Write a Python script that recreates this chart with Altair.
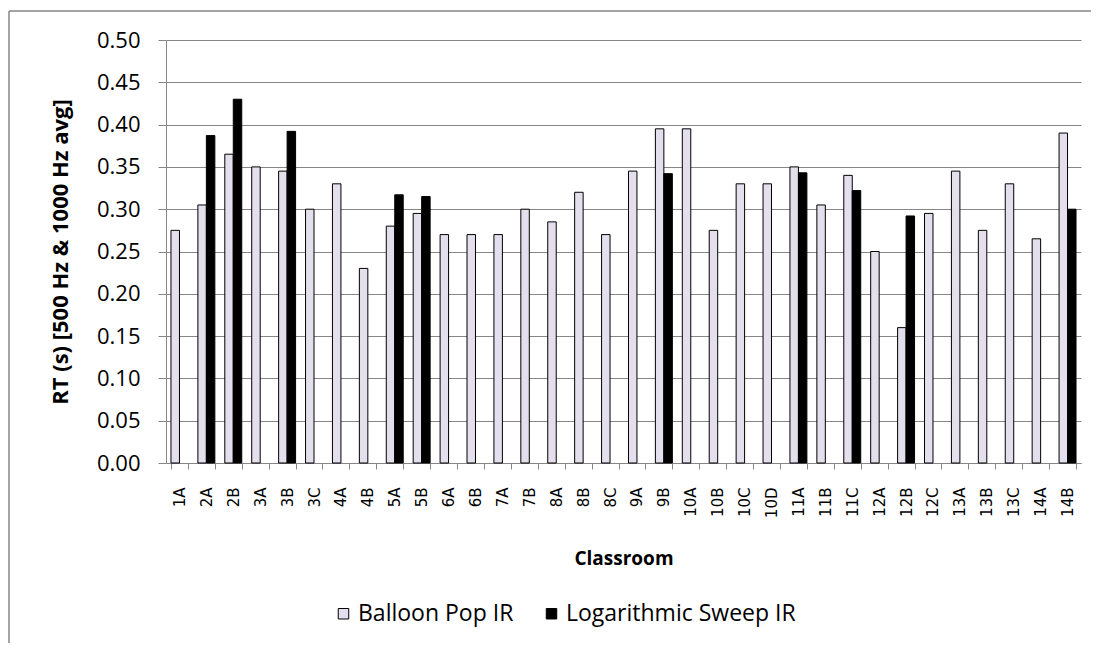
import altair as alt
import pandas as pd

rooms = ["1A", "2A", "2B", "3A", "3B", "3C", "4A", "4B", "5A", "5B", "6A", "6B",
         "7A", "7B", "8A", "8B", "8C", "9A", "9B", "10A", "10B", "10C", "10D",
         "11A", "11B", "11C", "12A", "12B", "12C", "13A", "13B", "13C", "14A", "14B"]
balloon = [0.275, 0.305, 0.365, 0.350, 0.345, 0.300, 0.330, 0.230, 0.280, 0.295, 0.270, 0.270,
           0.270, 0.300, 0.285, 0.320, 0.270, 0.345, 0.395, 0.395, 0.275, 0.330, 0.330,
           0.350, 0.305, 0.340, 0.250, 0.160, 0.295, 0.345, 0.275, 0.330, 0.265, 0.390]
sweep = [None, 0.387, 0.430, None, 0.392, None, None, None, 0.317, 0.315, None, None,
         None, None, None, None, None, None, 0.342, None, None, None, None,
         0.343, None, 0.322, None, 0.292, None, None, None, None, None, 0.300]
series = ["Balloon Pop IR", "Logarithmic Sweep IR"]
colors = ["#E4DFEC", "#000000"]
y_ticks = [0.0, 0.05, 0.10, 0.15, 0.20, 0.25, 0.30, 0.35, 0.40, 0.45, 0.50]

rows = []
for r, b, s in zip(rooms, balloon, sweep):
    rows.append({"room": r, "series": series[0], "rt": b})
    if s is not None:
        rows.append({"room": r, "series": series[1], "rt": s})
df = pd.DataFrame(rows)

FONT = "Open Sans"
XFONT = "DejaVu Sans"
GRID = "#868686"

bars = alt.Chart(df).mark_bar(stroke="black", strokeWidth=1).encode(
    x=alt.X("room:N", sort=rooms,
            scale=alt.Scale(paddingInner=0.37, paddingOuter=0.185),
            axis=alt.Axis(title="Classroom", labelAngle=270, labelFontSize=15,
                          labelPadding=18, tickBand="extent", tickSize=6,
                          tickColor=GRID, domainColor=GRID, titleFontSize=19,
                          titleFontWeight="bold", titlePadding=32, labelColor="black",
                          titleColor="black", labelFont=XFONT, titleFont=FONT)),
    xOffset=alt.XOffset("series:N", sort=series),
    y=alt.Y("rt:Q", scale=alt.Scale(domain=[0, 0.5], nice=False),
            axis=alt.Axis(title="RT (s) [500 Hz & 1000 Hz avg]", values=y_ticks,
                          format=".2f", labelFontSize=22, labelPadding=18, tickSize=8,
                          tickColor=GRID, domainColor=GRID, gridColor=GRID,
                          titleFontSize=22, titleFontWeight="bold", titlePadding=24,
                          labelColor="black", titleColor="black",
                          labelFont=FONT, titleFont=FONT)),
    color=alt.Color("series:N", sort=series,
                    scale=alt.Scale(domain=series, range=colors),
                    legend=alt.Legend(title=None, orient="none", direction="horizontal",
                                      legendX=166, legendY=562, symbolType="square",
                                      symbolSize=110, symbolStrokeColor="black",
                                      symbolStrokeWidth=1, labelFontSize=23,
                                      labelOffset=3, labelFont=FONT, columnPadding=26,
                                      labelLimit=400, labelColor="black")),
)

frame_df = pd.DataFrame({"k": [0]})
top_line = alt.Chart(frame_df).mark_rule(color=GRID, strokeWidth=1.5).encode(
    x=alt.value(-157), x2=alt.value(940), y=alt.value(-29))
left_line = alt.Chart(frame_df).mark_rule(color=GRID, strokeWidth=1.5).encode(
    x=alt.value(-157), y=alt.value(-29), y2=alt.value(640))

chart = alt.layer(bars, top_line, left_line).properties(
    width=915, height=423,
    autosize=alt.AutoSizeParams(type="none"),
    padding={"left": 158, "top": 32, "right": 10, "bottom": 180},
).configure_view(stroke=None).configure_axis(grid=False).configure_axisY(grid=True)

chart.save("out.html", embed_options={"renderer": "svg", "actions": False})
